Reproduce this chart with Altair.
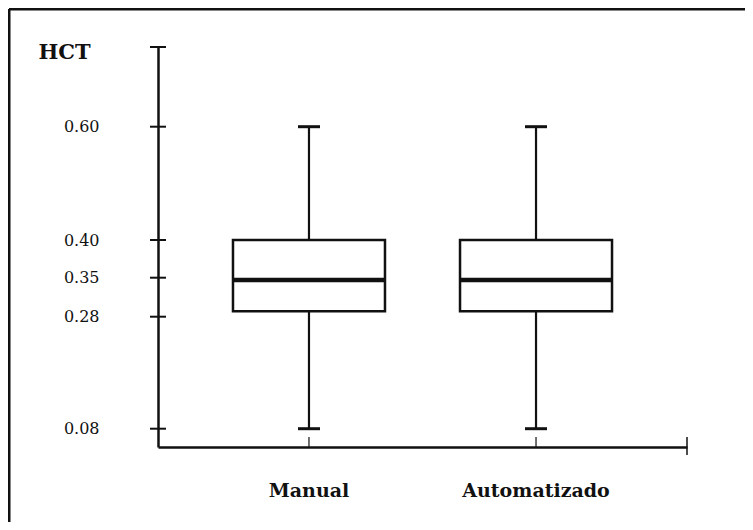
import altair as alt
import pandas as pd

# ---- data ----
groups = ["Manual", "Automatizado"]
lower = [0.08, 0.08]
q1 = [0.29, 0.29]
median = [0.346, 0.346]
q3 = [0.40, 0.40]
upper = [0.60, 0.60]
tick_values = [0.08, 0.28, 0.35, 0.40, 0.60]

df = pd.DataFrame({"group": groups, "lower": lower, "q1": q1,
                   "median": median, "q3": q3, "upper": upper})
ticks_df = pd.DataFrame({"v": tick_values})
one = pd.DataFrame({"a": [0]})

FONT = "DejaVu Serif"
INK = "#111111"

# piecewise (non-uniform) axis as printed in the original
yscale = alt.Scale(domain=[0.047, 0.08, 0.28, 0.35, 0.40, 0.60, 0.741],
                   range=[400, 381.7, 269.7, 230.7, 193, 79.7, 0],
                   zero=False, nice=False)

xenc = alt.X("group:N", sort=groups,
             scale=alt.Scale(paddingInner=0.67, paddingOuter=0.5),
             axis=alt.Axis(title=None, labelAngle=0, labelFont=FONT,
                           labelFontWeight="bold", labelFontSize=19,
                           labelColor=INK, labelBaseline="middle",
                           labelPadding=43, ticks=False, grid=False,
                           domainColor=INK, domainWidth=2.5))

yaxis = alt.Axis(values=tick_values, format=".2f", ticks=False, grid=False,
                 labelPadding=59, labelFont=FONT, labelFontSize=16,
                 labelColor=INK, domainColor=INK, domainWidth=2.5,
                 title="HCT", titleAngle=0, titleX=-120, titleY=5,
                 titleAlign="left", titleBaseline="middle", titleFont=FONT,
                 titleFontWeight="bold", titleFontSize=21, titleColor=INK)

whisker = alt.Chart(df).mark_rule(color=INK, strokeWidth=2.2).encode(
    x=xenc,
    y=alt.Y("lower:Q", scale=yscale, axis=yaxis),
    y2="upper:Q")

box = alt.Chart(df).mark_bar(size=152, fill="white", stroke=INK,
                             strokeWidth=2.5, opacity=1).encode(
    x=xenc, y=alt.Y("q1:Q", scale=yscale), y2="q3:Q")

med = alt.Chart(df).mark_tick(size=152, thickness=4.5, color=INK,
                              opacity=1).encode(
    x=xenc, y=alt.Y("median:Q", scale=yscale))

cap_lo = alt.Chart(df).mark_tick(size=22, thickness=3, color=INK,
                                 opacity=1).encode(
    x=xenc, y=alt.Y("lower:Q", scale=yscale))
cap_hi = alt.Chart(df).mark_tick(size=22, thickness=3, color=INK,
                                 opacity=1).encode(
    x=xenc, y=alt.Y("upper:Q", scale=yscale))

# crossing ticks on the y axis
yticks = alt.Chart(ticks_df).mark_rule(color=INK, strokeWidth=2).encode(
    y=alt.Y("v:Q", scale=yscale), x=alt.value(-8), x2=alt.value(8))
ytop = alt.Chart(one).mark_rule(color=INK, strokeWidth=2).encode(
    y=alt.value(0), x=alt.value(-8), x2=alt.value(8))

# small inward ticks on the x axis and the end tick
xticks = alt.Chart(df).mark_rule(color=INK, strokeWidth=1.2).encode(
    x=xenc, y=alt.value(390), y2=alt.value(400))
xend = alt.Chart(one).mark_rule(color=INK, strokeWidth=1.5).encode(
    x=alt.value(529), y=alt.value(390), y2=alt.value(408))

# page frame
frame_top = alt.Chart(one).mark_rule(color=INK, strokeWidth=3).encode(
    x=alt.value(-149), x2=alt.value(620), y=alt.value(-38))
frame_left = alt.Chart(one).mark_rule(color=INK, strokeWidth=3).encode(
    x=alt.value(-149), y=alt.value(-38), y2=alt.value(520))

chart = alt.layer(
    whisker, box, med, cap_lo, cap_hi, yticks, ytop, xticks, xend,
    frame_top, frame_left
).properties(
    width=529, height=400,
    autosize=alt.AutoSizeParams(type="none"),
    padding={"left": 150, "top": 39, "right": 58, "bottom": 75},
    background="white",
).configure_view(stroke=None)

chart.save("out.html", embed_options={"renderer": "svg", "actions": False})
